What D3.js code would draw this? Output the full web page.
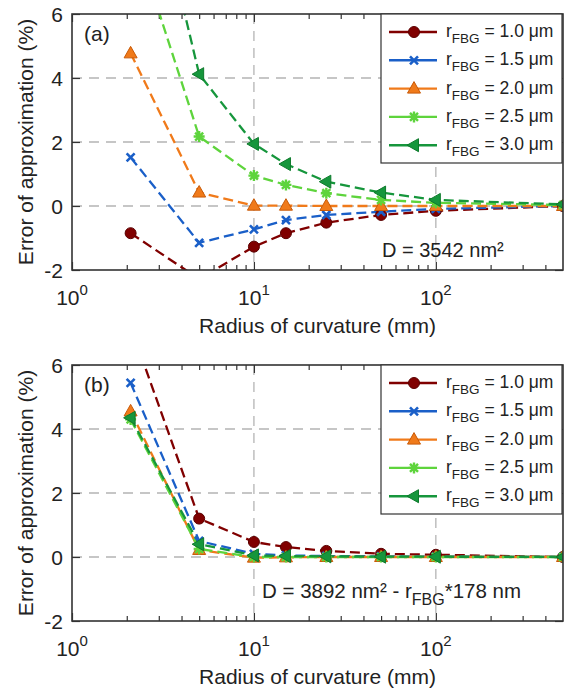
<!DOCTYPE html>
<html><head><meta charset="utf-8">
<script src="https://cdn.jsdelivr.net/npm/d3@7"></script>
<style>body{margin:0;background:#fff}svg{display:block}text{font-family:"Liberation Sans",Arial,sans-serif;fill:#222}</style>
</head><body>
<script>
// ---- data ----
const radius = [2.1, 5, 10, 15, 25, 50, 100, 500];
const seriesLabels = ["1.0", "1.5", "2.0", "2.5", "3.0"];
const xTicks = [1, 10, 100];
const xTickExp = ["0", "1", "2"];
const yTicks = [-2, 0, 2, 4, 6];

const errA_10 = [-0.85, -2.28, -1.27, -0.85, -0.52, -0.28, -0.15, 0.0];
const errA_15 = [1.52, -1.15, -0.73, -0.44, -0.28, -0.18, -0.09, 0.0];
const errA_20 = [4.77, 0.42, 0.01, 0.01, 0.0, 0.0, 0.0, 0.0];
const errA_25 = [8.8, 2.17, 0.95, 0.66, 0.40, 0.19, 0.10, 0.03];
const errA_30 = [13.1, 4.12, 1.94, 1.31, 0.76, 0.42, 0.19, 0.05];

const errB_10 = [7.2, 1.2, 0.47, 0.31, 0.19, 0.10, 0.07, 0.0];
const errB_15 = [5.44, 0.5, 0.1, 0.05, 0.03, 0.02, 0.01, 0.0];
const errB_20 = [4.55, 0.22, -0.02, -0.01, 0.0, 0.0, 0.0, 0.0];
const errB_25 = [4.3, 0.25, 0.0, 0.0, 0.0, 0.0, 0.0, 0.0];
const errB_30 = [4.35, 0.4, 0.05, 0.03, 0.02, 0.01, 0.01, 0.0];

const colors = ["#800000", "#1a5fc8", "#f07a1a", "#5ed43c", "#16963c"];
const strokes = ["#5a0000", "#1a5fc8", "#c85a08", "#5ed43c", "#0e7a2c"];
const markers = ["circle", "cross", "triUp", "star", "triLeft"];

// ---- drawing ----
const W = 573, H = 692;
const svg = d3.select("body").append("svg").attr("width", W).attr("height", H);

function markerPath(type) {
  if (type === "cross") return "M-4,-4L4,4M-4,4L4,-4";
  if (type === "triUp") return "M0,-7L6.5,4.5L-6.5,4.5Z";
  if (type === "triLeft") return "M-7,0L4.5,-6.5L4.5,6.5Z";
  if (type === "star") return "M0,-5.5L0,5.5M-5.5,0L5.5,0M-4,-4L4,4M-4,4L4,-4";
  return null;
}
function drawMarker(g, type, i) {
  if (type === "circle") {
    g.append("circle").attr("r", 5.5).attr("fill", colors[i]).attr("stroke", strokes[i]).attr("stroke-width", 1);
  } else if (type === "cross" || type === "star") {
    g.append("path").attr("d", markerPath(type)).attr("fill", "none").attr("stroke", colors[i]).attr("stroke-width", type === "star" ? 2.4 : 2.6);
  } else {
    g.append("path").attr("d", markerPath(type)).attr("fill", colors[i]).attr("stroke", strokes[i]).attr("stroke-width", 1);
  }
}

function panel(id, top, letter, seriesData, annot) {
  const x0 = 72, x1 = 563, y0 = top, y1 = top + 256;
  const x = d3.scaleLog().domain([1, 500]).range([x0, x1]);
  const y = d3.scaleLinear().domain([-2, 6]).range([y1, y0]);
  const g = svg.append("g");

  svg.append("clipPath").attr("id", "clip" + id).append("rect")
    .attr("x", x0).attr("y", y0).attr("width", x1 - x0).attr("height", y1 - y0);

  // grid
  const grid = g.append("g").attr("stroke", "#b4b4b4").attr("stroke-width", 1.3).attr("stroke-dasharray", "10,7");
  [10, 100].forEach(v => grid.append("line").attr("x1", x(v)).attr("x2", x(v)).attr("y1", y0).attr("y2", y1));
  [0, 2, 4].forEach(v => grid.append("line").attr("x1", x0).attr("x2", x1).attr("y1", y(v)).attr("y2", y(v)));

  // axes (inward ticks)
  const minor = [];
  for (let d = 1; d <= 100; d *= 10) for (let k = 2; k <= 9; k++) if (d * k < 500) minor.push(d * k);
  const axB = d3.axisBottom(x).tickValues(xTicks).tickSizeInner(-8).tickSizeOuter(0).tickFormat("");
  const axBm = d3.axisBottom(x).tickValues(minor).tickSizeInner(-5).tickSizeOuter(0).tickFormat("");
  const axT = d3.axisTop(x).tickValues(xTicks).tickSizeInner(-8).tickSizeOuter(0).tickFormat("");
  const axTm = d3.axisTop(x).tickValues(minor).tickSizeInner(-5).tickSizeOuter(0).tickFormat("");
  const axL = d3.axisLeft(y).tickValues(yTicks).tickSizeInner(-8).tickSizeOuter(0).tickFormat("");
  const axR = d3.axisRight(y).tickValues(yTicks).tickSizeInner(-8).tickSizeOuter(0).tickFormat("");
  [[axB, `translate(0,${y1})`], [axBm, `translate(0,${y1})`], [axT, `translate(0,${y0})`], [axTm, `translate(0,${y0})`],
   [axL, `translate(${x0},0)`], [axR, `translate(${x1},0)`]].forEach(([a, t]) => {
    const ag = g.append("g").attr("transform", t).call(a);
    ag.select(".domain").remove();
    ag.selectAll("line").attr("stroke", "#333").attr("stroke-width", 1.2);
  });

  // series
  const line = d3.line().x((d, j) => x(radius[j])).y(d => y(d));
  const sg = g.append("g").attr("clip-path", `url(#clip${id})`);
  seriesData.forEach((vals, i) => {
    sg.append("path").datum(vals).attr("d", line).attr("fill", "none")
      .attr("stroke", colors[i]).attr("stroke-width", 2.3).attr("stroke-dasharray", "10,5");
  });
  seriesData.forEach((vals, i) => {
    vals.forEach((v, j) => {
      const mg = sg.append("g").attr("transform", `translate(${x(radius[j])},${y(v)})`);
      drawMarker(mg, markers[i], i);
    });
  });

  // frame
  g.append("rect").attr("x", x0).attr("y", y0).attr("width", x1 - x0).attr("height", y1 - y0)
    .attr("fill", "none").attr("stroke", "#333").attr("stroke-width", 1.6);

  // tick labels
  yTicks.forEach(v => g.append("text").attr("x", x0 - 9).attr("y", y(v) + 7.5).attr("text-anchor", "end")
    .attr("font-size", 21).text(v));
  xTicks.forEach((v, k) => {
    const t = g.append("text").attr("x", x(v)).attr("y", y1 + 35).attr("text-anchor", "middle").attr("font-size", 21);
    t.append("tspan").text("10");
    t.append("tspan").attr("font-size", 15).attr("dy", -10).text(xTickExp[k]);
  });

  // axis titles
  g.append("text").attr("x", (x0 + x1) / 2).attr("y", y1 + 63).attr("text-anchor", "middle")
    .attr("font-size", 21).text("Radius of curvature (mm)");
  g.append("text").attr("transform", `translate(33,${(y0 + y1) / 2}) rotate(-90)`).attr("text-anchor", "middle")
    .attr("font-size", 21).text("Error of approximation (%)");

  // panel letter
  g.append("text").attr("x", 84).attr("y", y0 + 27).attr("font-size", 21).text(letter);

  // legend
  const lx = 381, lw = 181, lh = 149;
  const lg = g.append("g");
  lg.append("rect").attr("x", lx).attr("y", y0).attr("width", lw).attr("height", lh)
    .attr("fill", "#fff").attr("stroke", "#333").attr("stroke-width", 1.2);
  seriesLabels.forEach((s, i) => {
    const yy = y0 + 18 + i * 28.3;
    lg.append("line").attr("x1", lx + 8).attr("x2", lx + 56).attr("y1", yy).attr("y2", yy)
      .attr("stroke", colors[i]).attr("stroke-width", 2.4);
    drawMarker(lg.append("g").attr("transform", `translate(${lx + 33},${yy})`), markers[i], i);
    const t = lg.append("text").attr("x", lx + 65).attr("y", yy + 5).attr("font-size", 17.5);
    t.append("tspan").text("r");
    t.append("tspan").attr("font-size", 13.5).attr("dy", 6).text("FBG");
    t.append("tspan").attr("dy", -6).text(" = " + s + " μm");
  });

  annot(g, x, y, y1);
}

panel("a", 14, "(a)", [errA_10, errA_15, errA_20, errA_25, errA_30], (g, x, y, y1) => {
  g.append("text").attr("x", 382).attr("y", 257).attr("font-size", 20).text("D = 3542 nm²");
});
panel("b", 365, "(b)", [errB_10, errB_15, errB_20, errB_25, errB_30], (g, x, y, y1) => {
  const t = g.append("text").attr("x", 262).attr("y", 598).attr("font-size", 20.5);
  t.append("tspan").text("D = 3892 nm² - r");
  t.append("tspan").attr("font-size", 16).attr("dy", 7).text("FBG");
  t.append("tspan").attr("dy", -7).text("*178 nm");
});
</script>
</body></html>
